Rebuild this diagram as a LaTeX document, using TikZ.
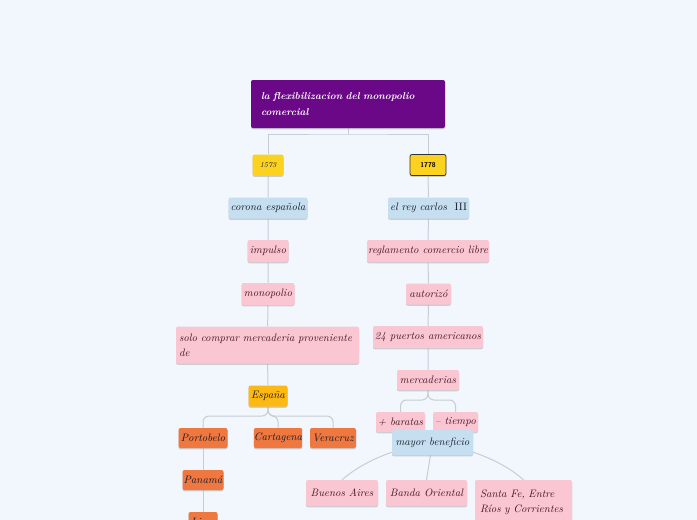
\documentclass[tikz,border=0pt]{standalone}
\usetikzlibrary{shadows}
\definecolor{bgc}{RGB}{242,246,253}
\definecolor{rootc}{RGB}{107,8,136}
\definecolor{pinkc}{RGB}{249,198,210}
\definecolor{bluec}{RGB}{197,223,240}
\definecolor{yelc}{RGB}{252,210,32}
\definecolor{ambc}{RGB}{253,185,19}
\definecolor{orac}{RGB}{238,120,64}
\definecolor{linec}{RGB}{200,204,212}
\definecolor{pinktext}{RGB}{70,20,35}
\definecolor{darktext}{RGB}{25,25,40}
\pgfdeclarelayer{bgfill}
\pgfdeclarelayer{background}
\pgfsetlayers{bgfill,background,main}
\tikzset{
  basebox/.style={rounded corners=2pt, inner sep=0pt, align=center,
    font=\itshape\fontsize{10.8}{15}\selectfont,
    drop shadow={shadow xshift=0pt, shadow yshift=-1.3pt, fill=black!30, opacity=0.6}},
  pinkbox/.style={basebox, fill=pinkc, text=pinktext},
  bluebox/.style={basebox, fill=bluec, text=darktext},
  orabox/.style={basebox, fill=orac, text=darktext},
  ambbox/.style={basebox, fill=ambc, text=darktext},
  conn/.style={draw=linec, line width=1pt},
}
\begin{document}
\begin{tikzpicture}[x=1pt, y=-1pt]
\useasboundingbox (0,0) rectangle (697,520);
\begin{pgfonlayer}{bgfill}
\fill[bgc] (0,0) rectangle (697,520);
\end{pgfonlayer}

% root
\node[basebox, fill=rootc, text=white, minimum width=194, minimum height=48,
  text width=174, align=left, font=\bfseries\itshape\fontsize{10}{16}\selectfont] (root) at (348,104)
  {la flexibilizacion del monopolio\\comercial};

% left column
\node[basebox, fill=yelc, text=darktext, minimum width=31, minimum height=21,
  font=\itshape\fontsize{7.5}{8}\selectfont] (y1573) at (268,165) {1573};
\node[bluebox, minimum width=79, minimum height=21] (corona) at (268,208) {corona española};
\node[pinkbox, minimum width=41, minimum height=22] (impulso) at (268,251) {impulso};
\node[pinkbox, minimum width=53, minimum height=22] (monop) at (268,294) {monopolio};
\node[pinkbox, minimum width=183, minimum height=37, text width=177, align=left] (solo) at (267.5,345)
  {solo comprar mercaderia proveniente\\de};
\node[ambbox, minimum width=39, minimum height=21] (espana) at (268,396) {España};
\node[orabox, minimum width=49, minimum height=20] (porto) at (203,438) {Portobelo};
\node[orabox, minimum width=48, minimum height=20] (carta) at (278,438) {Cartagena};
\node[orabox, minimum width=46, minimum height=20] (vera) at (333,438) {Veracruz};
\node[orabox, minimum width=41, minimum height=20] (panama) at (203,480) {Panamá};
\node[orabox, minimum width=29, minimum height=20] (lima) at (203,522) {Lima};

% right column
\node[basebox, fill=yelc, draw=black!80, line width=0.8pt, text=black, minimum width=36, minimum height=21,
  font=\sffamily\bfseries\fontsize{7}{8}\selectfont] (y1778) at (428,165) {1778};
\node[bluebox, minimum width=81, minimum height=21] (carlos) at (428.5,208) {el rey carlos \ \textup{III}};
\node[pinkbox, minimum width=122, minimum height=22] (regla) at (428,251) {reglamento comercio libre};
\node[pinkbox, minimum width=45, minimum height=21] (autor) at (428.5,294) {autorizó};
\node[pinkbox, minimum width=110, minimum height=22] (puertos) at (428,337) {24 puertos americanos};
\node[pinkbox, minimum width=62, minimum height=20] (merc) at (428,380) {mercaderias};
\node[pinkbox, minimum width=49, minimum height=20] (baratas) at (400.5,422) {+ baratas};
\node[pinkbox, minimum width=45, minimum height=20] (tiempo) at (455.5,422) {-- tiempo};
\node[bluebox, minimum width=81, minimum height=25] (mayor) at (432.5,442.5) {mayor beneficio};
\node[pinkbox, minimum width=72, minimum height=26] (ba) at (342,493) {Buenos Aires};
\node[pinkbox, minimum width=81, minimum height=26] (banda) at (426.5,493) {Banda Oriental};
\node[pinkbox, minimum width=97, minimum height=44, text width=87, align=left] (santa) at (523.5,502)
  {Santa Fe, Entre\\Ríos y Corrientes};

\coordinate (j1) at (348,134);
\coordinate (j2) at (268,416);
\coordinate (j3) at (428,400);

\begin{pgfonlayer}{background}
\draw[conn] (root) -- (j1);
\draw[conn] (y1573.north) |- (j1) -| (y1778.north);
\draw[conn] (y1573) -- (corona) -- (impulso) -- (monop) -- (solo) -- (espana);
\draw[conn, rounded corners=6pt] (espana) -- (j2) -| (porto.north);
\draw[conn, rounded corners=6pt] (espana) -- (j2) -| (carta.north);
\draw[conn, rounded corners=6pt] (espana) -- (j2) -| (vera.north);
\draw[conn] (porto) -- (panama) -- (lima);
\draw[conn] (y1778) -- (carlos) -- (regla) -- (autor) -- (puertos) -- (merc);
\draw[conn, rounded corners=6pt] (merc) -- (j3) -| (baratas.north);
\draw[conn, rounded corners=6pt] (merc) -- (j3) -| (tiempo.north);
\draw[conn] (mayor.center) .. controls (385,450) and (358,466) .. (ba.north);
\draw[conn] (mayor.center) -- (banda.north);
\draw[conn] (mayor.center) .. controls (480,450) and (508,466) .. (santa.north);
\end{pgfonlayer}
\end{tikzpicture}
\end{document}
